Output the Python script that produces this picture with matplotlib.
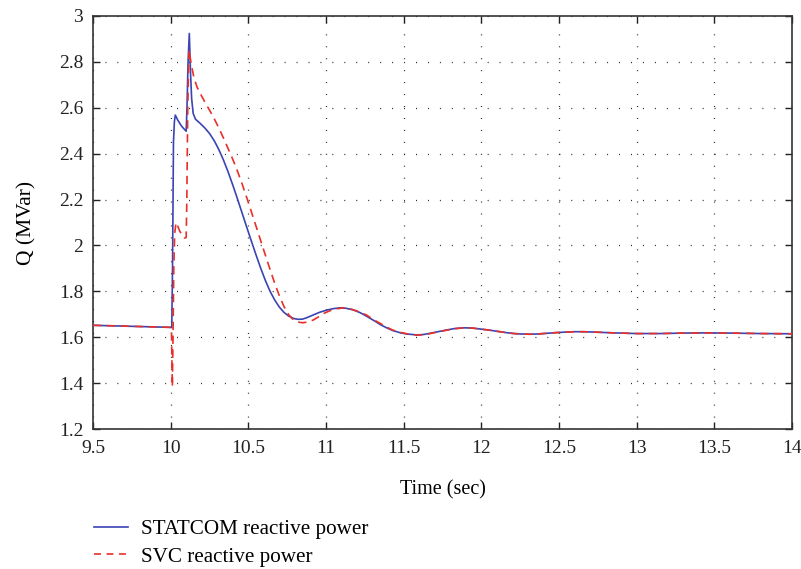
import matplotlib
matplotlib.use("Agg")
import matplotlib.pyplot as plt
from matplotlib.lines import Line2D

plt.rcParams['font.family'] = ['Liberation Serif', 'DejaVu Serif']
plt.rcParams['lines.scale_dashes'] = False

# STATCOM reactive power (MVar) vs time (s)
t_statcom = [9.5, 10.0, 10.007, 10.012, 10.018, 10.024, 10.03, 10.045, 10.07, 10.09,
             10.1, 10.105, 10.112, 10.12, 10.128, 10.135, 10.145, 10.16, 10.19, 10.22,
             10.25, 10.28, 10.31, 10.34, 10.37, 10.40, 10.43, 10.46, 10.49, 10.52,
             10.55, 10.58, 10.61, 10.64, 10.67, 10.70, 10.73, 10.76, 10.79, 10.82,
             10.85, 10.88, 10.918, 10.96, 11.004, 11.05, 11.09, 11.13, 11.176, 11.22,
             11.26, 11.31, 11.35, 11.39, 11.43, 11.48, 11.52, 11.585, 11.63, 11.67,
             11.72, 11.78, 11.83, 11.885, 11.94, 11.99, 12.05, 12.1, 12.16, 12.21,
             12.26, 12.31, 12.36, 12.42, 12.48, 12.53, 12.6, 12.66, 12.74, 12.85,
             13.0, 13.15, 13.3, 13.45, 13.6, 13.8, 14.0]
q_statcom = [1.652, 1.643, 1.642, 1.9, 2.45, 2.54, 2.568, 2.547, 2.52, 2.505,
             2.498, 2.6, 2.8, 2.924, 2.75, 2.64, 2.575, 2.55, 2.532, 2.512,
             2.488, 2.457, 2.418, 2.372, 2.320, 2.263, 2.203, 2.141, 2.079, 2.018,
             1.958, 1.900, 1.847, 1.800, 1.762, 1.731, 1.708, 1.692, 1.682, 1.678,
             1.679, 1.686, 1.697, 1.709, 1.718, 1.725, 1.728, 1.726, 1.719, 1.707,
             1.692, 1.672, 1.655, 1.641, 1.629, 1.619, 1.614, 1.610, 1.612, 1.617,
             1.624, 1.632, 1.638, 1.641, 1.640, 1.636, 1.631, 1.626, 1.620, 1.616,
             1.614, 1.613, 1.614, 1.617, 1.620, 1.622, 1.624, 1.624, 1.622, 1.619,
             1.616, 1.616, 1.618, 1.619, 1.618, 1.616, 1.615]

# SVC reactive power (MVar) vs time (s)
t_svc = [9.5, 10.0, 10.005, 10.008, 10.011, 10.015, 10.02, 10.026, 10.034, 10.045,
         10.06, 10.075, 10.09, 10.1, 10.104, 10.11, 10.118, 10.13, 10.15, 10.17,
         10.19, 10.22, 10.25, 10.28, 10.31, 10.34, 10.37, 10.40, 10.43, 10.46,
         10.49, 10.52, 10.55, 10.58, 10.61, 10.64, 10.67, 10.70, 10.73, 10.76,
         10.79, 10.82, 10.85, 10.88, 10.918, 10.95, 10.98, 11.02, 11.06, 11.11,
         11.15, 11.2, 11.26, 11.31, 11.35, 11.39, 11.43, 11.48, 11.52, 11.585,
         11.63, 11.67, 11.72, 11.78, 11.83, 11.885, 11.94, 11.99, 12.05, 12.1,
         12.16, 12.21, 12.26, 12.31, 12.36, 12.42, 12.48, 12.53, 12.6, 12.66,
         12.74, 12.85, 13.0, 13.15, 13.3, 13.45, 13.6, 13.8, 14.0]
q_svc = [1.652, 1.643, 1.642, 1.50, 1.384, 1.6, 1.9, 2.05, 2.10, 2.085,
         2.06, 2.045, 2.032, 2.035, 2.2, 2.6, 2.852, 2.80, 2.73, 2.69,
         2.663, 2.625, 2.590, 2.553, 2.512, 2.468, 2.422, 2.375, 2.324, 2.268,
         2.208, 2.146, 2.083, 2.020, 1.957, 1.895, 1.835, 1.780, 1.733, 1.698,
         1.676, 1.666, 1.663, 1.666, 1.675, 1.688, 1.702, 1.714, 1.723, 1.728,
         1.725, 1.714, 1.697, 1.675, 1.660, 1.644, 1.631, 1.621, 1.615, 1.609,
         1.611, 1.616, 1.623, 1.631, 1.637, 1.641, 1.640, 1.636, 1.631, 1.626,
         1.620, 1.616, 1.614, 1.613, 1.614, 1.617, 1.620, 1.622, 1.624, 1.624,
         1.622, 1.619, 1.616, 1.616, 1.618, 1.619, 1.618, 1.616, 1.615]

x_ticks = [9.5, 10, 10.5, 11, 11.5, 12, 12.5, 13, 13.5, 14]
x_tick_labels = ['9.5', '10', '10.5', '11', '11.5', '12', '12.5', '13', '13.5', '14']
y_ticks = [1.2, 1.4, 1.6, 1.8, 2.0, 2.2, 2.4, 2.6, 2.8, 3.0]
y_tick_labels = ['1.2', '1.4', '1.6', '1.8', '2', '2.2', '2.4', '2.6', '2.8', '3']

blue = '#3a44b3'
red = '#e8302a'

fig = plt.figure(figsize=(8.01, 5.69), dpi=100)
ax = fig.add_axes([93 / 801, 1 - 429 / 569, (792 - 93) / 801, (429 - 16) / 569])

ax.plot(t_statcom, q_statcom, color=blue, lw=1.2, zorder=3)
ax.plot(t_svc, q_svc, color=red, lw=1.2, dashes=(6, 4), zorder=4)

ax.set_xlim(9.5, 14)
ax.set_ylim(1.2, 3.0)
ax.set_xticks(x_ticks)
ax.set_xticklabels(x_tick_labels)
ax.set_yticks(y_ticks)
ax.set_yticklabels(y_tick_labels)

ax.tick_params(direction='in', length=5, width=1.0, labelsize=14, colors='#222222',
               top=True, right=True, pad=7)
ax.tick_params(axis='x', pad=8)
for s in ax.spines.values():
    s.set_linewidth(1.2)
    s.set_color('#333333')

ax.grid(True, color='#222222', linewidth=0.9, dashes=(0.7, 7.9))

ax.set_xlabel('Time (sec)', fontsize=14.5, labelpad=17)
ax.set_ylabel('Q (MVar)', fontsize=15.5, labelpad=16)

handles = [Line2D([], [], color=blue, lw=1.2),
           Line2D([], [], color=red, lw=1.2, dashes=(5, 4))]
fig.legend(handles, ['STATCOM reactive power', 'SVC reactive power'],
           loc='upper left', bbox_to_anchor=(86 / 801, 1 - 511 / 569),
           frameon=False, fontsize=15.2, handlelength=1.6, handletextpad=0.6,
           labelspacing=0.36, borderaxespad=0.0)

fig.savefig('out.png', dpi=100)
